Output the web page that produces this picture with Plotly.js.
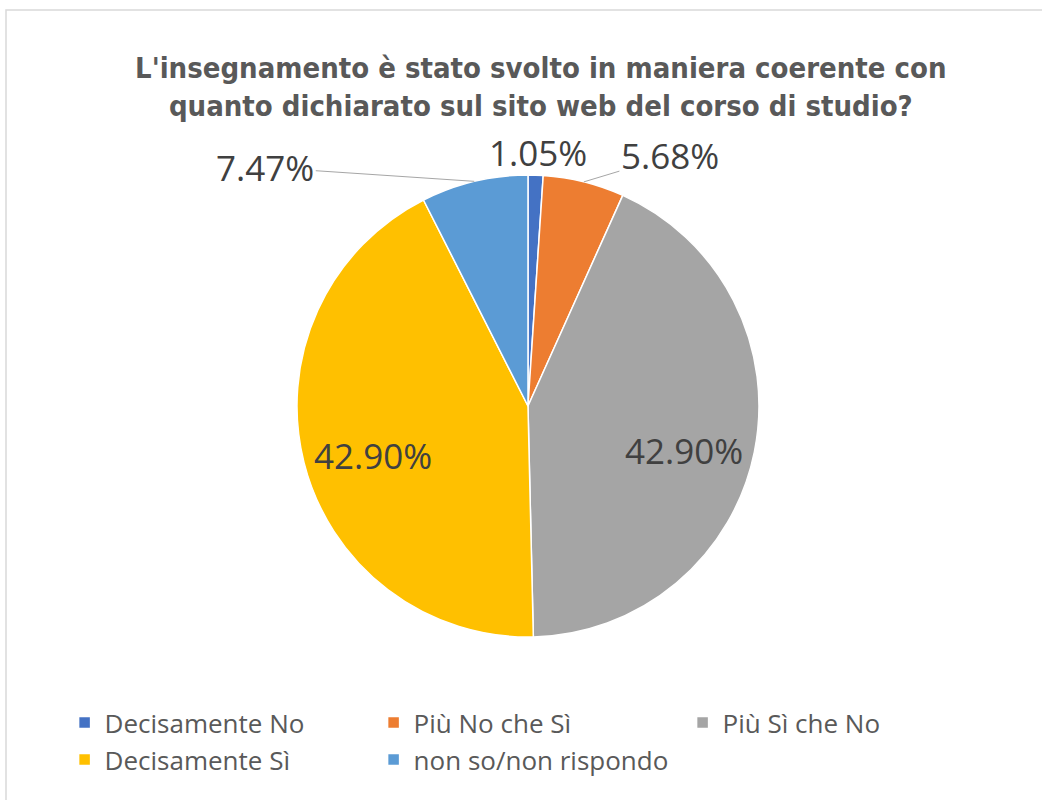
<!DOCTYPE html>
<html>
<head>
<meta charset="utf-8">
<script src="https://cdn.plot.ly/plotly-3.0.1.min.js"></script>
<style>
  html, body { margin: 0; padding: 0; background: #fff; }
  #chart { width: 1042px; height: 800px; }
</style>
</head>
<body>
<div id="chart"></div>
<script>
const categories = ["Decisamente No", "Più No che Sì", "Più Sì che No", "Decisamente Sì", "non so/non rispondo"];
const percentages = [1.05, 5.68, 42.90, 42.90, 7.47];
const sliceColors = ["#4472C4", "#ED7D31", "#A5A5A5", "#FFC000", "#5B9BD5"];
const chartTitle = "L'insegnamento è stato svolto in maniera coerente con<br>quanto dichiarato sul sito web del corso di studio?";

// label placement style: outside labels get a pixel offset from the slice edge, inside ones sit at a radius fraction
const labelStyle = [
  { outside: true, ax: 2, ay: -23, line: false },
  { outside: true, ax: 86, ay: -26, line: true },
  { outside: false, rf: 0.69, yshift: -13 },
  { outside: false, rf: 0.69, yshift: -11 },
  { outside: true, ax: -209, ay: -14, line: true }
];

const W = 1042, H = 800;
const pieDomain = { x: [0.285, 0.7284], y: [0.20375, 0.78125] };

const trace = {
  type: "pie",
  labels: categories,
  values: percentages,
  sort: false,
  direction: "clockwise",
  rotation: 0,
  marker: { colors: sliceColors, line: { color: "#ffffff", width: 1.5 } },
  textinfo: "none",
  hoverinfo: "label+percent",
  domain: pieDomain
};

// compute label anchors from the data (cumulative angles) and the pie domain
const total = percentages.reduce((a, b) => a + b, 0);
const cx = (pieDomain.x[0] + pieDomain.x[1]) / 2 * W;
const cy = (1 - (pieDomain.y[0] + pieDomain.y[1]) / 2) * H;
const R = Math.min((pieDomain.x[1] - pieDomain.x[0]) * W, (pieDomain.y[1] - pieDomain.y[0]) * H) / 2;
const labelFont = { family: "Open Sans, sans-serif", size: 35, color: "#404040" };
const annotations = [];
let cum = 0;
percentages.forEach((v, i) => {
  const theta = 2 * Math.PI * (cum + v / 2) / total;
  cum += v;
  const st = labelStyle[i];
  const rr = st.outside ? R : R * st.rf;
  const px = cx + rr * Math.sin(theta);
  const py = cy - rr * Math.cos(theta);
  const a = {
    x: px / W, y: 1 - py / H, xref: "paper", yref: "paper",
    text: v.toFixed(2) + "%",
    font: labelFont,
    xanchor: "center", yanchor: "middle"
  };
  if (st.outside) {
    Object.assign(a, {
      showarrow: true, ax: st.ax, ay: st.ay, arrowhead: 0, arrowwidth: 1,
      arrowcolor: st.line ? "#a6a6a6" : "rgba(0,0,0,0)", standoff: 0
    });
  } else {
    a.showarrow = false;
    a.yshift = st.yshift;
  }
  annotations.push(a);
});

const layout = {
  width: W,
  height: H,
  margin: { l: 0, r: 0, t: 0, b: 0 },
  paper_bgcolor: "#ffffff",
  title: {
    text: "<b>" + chartTitle + "</b>",
    font: { family: "DejaVu Sans Condensed, sans-serif", size: 29, color: "#595959" },
    x: 0.519,
    xanchor: "center",
    y: 0.9025,
    yanchor: "top"
  },
  showlegend: true,
  legend: {
    orientation: "h",
    x: 0.062,
    xanchor: "left",
    y: 0.126,
    yanchor: "top",
    entrywidth: 264,
    entrywidthmode: "pixels",
    font: { family: "Open Sans, sans-serif", size: 26, color: "#595959" },
    traceorder: "normal"
  },
  annotations: annotations,
  shapes: [{
    type: "rect",
    xref: "paper", yref: "paper",
    x0: 6 / W, x1: 1.05, y0: -0.05, y1: 1 - 10 / H,
    line: { color: "#d9d9d9", width: 1.5 },
    fillcolor: "rgba(0,0,0,0)",
    layer: "below"
  }]
};

Plotly.newPlot("chart", [trace], layout, { displayModeBar: false, staticPlot: true });
</script>
</body>
</html>
